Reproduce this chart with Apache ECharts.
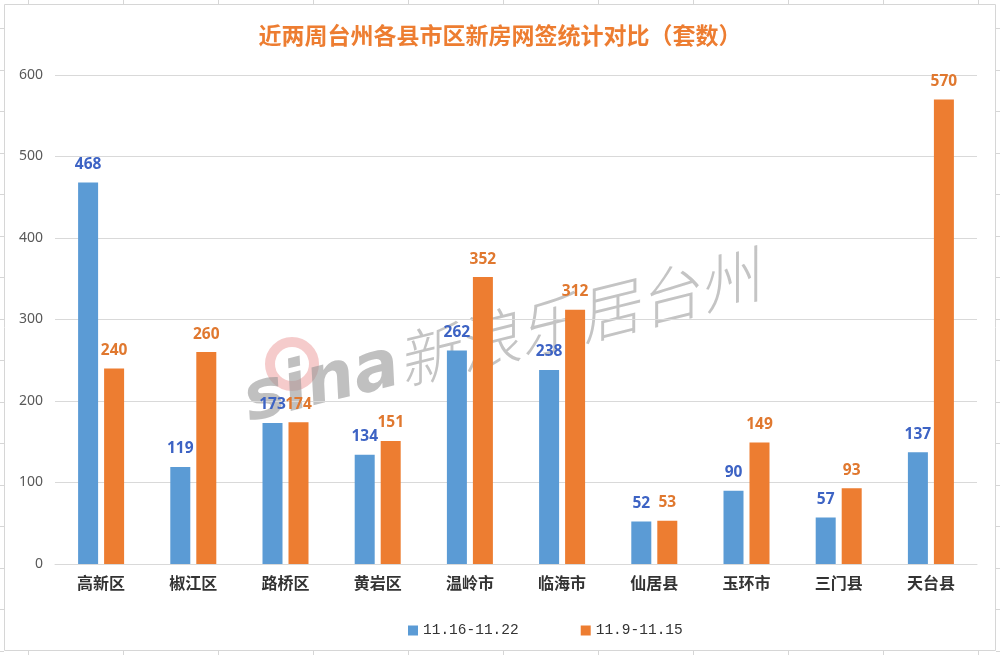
<!DOCTYPE html>
<html>
<head>
<meta charset="utf-8">
<script src="https://cdn.jsdelivr.net/npm/echarts@6/dist/echarts.min.js"></script>
<style>html,body{margin:0;padding:0;background:#fff}#c{width:1000px;height:655px}</style>
</head>
<body>
<div id="c"></div>
<script>
const categories = ['高新区','椒江区','路桥区','黄岩区','温岭市','临海市','仙居县','玉环市','三门县','天台县'];
const seriesNames = ['11.16-11.22','11.9-11.15'];
const week1 = [468,119,173,134,262,238,52,90,57,137];
const week2 = [240,260,174,151,352,312,53,149,93,570];
const yTicks = [0,100,200,300,400,500,600];

const chart = echarts.init(document.getElementById('c'));
const cjk = '"Microsoft YaHei","Noto Sans CJK SC",sans-serif';

// spreadsheet cell lines around the chart object (decoration)
const deco = [];
const lineStyle = {stroke:'#d6d6d6', lineWidth:1};
deco.push({type:'rect', shape:{x:4.5,y:4.5,width:991,height:646}, style:{fill:null, stroke:'#d6d6d6', lineWidth:1}, silent:true, z:-10});
for (let x = 28; x < 1000; x += 95) {
  deco.push({type:'line', shape:{x1:x+0.5,y1:0,x2:x+0.5,y2:4}, style:lineStyle, silent:true});
  deco.push({type:'line', shape:{x1:x+0.5,y1:651,x2:x+0.5,y2:655}, style:lineStyle, silent:true});
}
for (let y = 28; y < 655; y += 41.5) {
  const yy = Math.round(y)+0.5;
  deco.push({type:'line', shape:{x1:0,y1:yy,x2:4,y2:yy}, style:lineStyle, silent:true});
  deco.push({type:'line', shape:{x1:996,y1:yy,x2:1000,y2:yy}, style:lineStyle, silent:true});
}
// watermark
deco.push({type:'circle', shape:{cx:292, cy:364, r:22}, style:{fill:null, stroke:'rgba(232,140,140,0.45)', lineWidth:10}, silent:true, z:-5});
deco.push({type:'text', x:322, y:385, rotation:14*Math.PI/180, style:{text:'sina', font:'italic bold 68px "DejaVu Sans",sans-serif', fill:'rgba(150,150,150,0.6)', textAlign:'center', textVerticalAlign:'middle'}, silent:true, z:-4});
deco.push({type:'text', x:578, y:318, rotation:14*Math.PI/180, style:{text:'新浪乐居台州', font:'italic 300 62px "Noto Sans CJK SC",sans-serif', fill:'rgba(165,165,165,0.65)', textAlign:'center', textVerticalAlign:'middle'}, silent:true, z:-4});

chart.setOption({
  backgroundColor:'#ffffff',
  animation:false,
  title:{
    text:'近两周台州各县市区新房网签统计对比（套数）',
    left:'center', top:19,
    textStyle:{fontFamily:cjk, fontSize:23, fontWeight:'bold', color:'#ED7D31'}
  },
  legend:{
    left:403, top:618,
    itemWidth:10, itemHeight:10, itemGap:62,
    icon:'rect',
    textStyle:{fontFamily:'"Liberation Mono",monospace', fontSize:14.5, color:'#333'},
    data:seriesNames
  },
  grid:{left:55, right:23, top:75, bottom:91, containLabel:false},
  xAxis:{
    type:'category', data:categories,
    axisLine:{lineStyle:{color:'#d9d9d9'}},
    axisTick:{show:false},
    axisLabel:{fontFamily:cjk, fontSize:16, fontWeight:'bold', color:'#333', margin:11}
  },
  yAxis:{
    type:'value', min:yTicks[0], max:yTicks[yTicks.length-1], interval:100,
    axisLine:{show:false}, axisTick:{show:false},
    splitLine:{lineStyle:{color:'#d9d9d9'}},
    axisLabel:{fontFamily:'"Noto Sans",sans-serif', fontSize:14, color:'#595959', margin:12}
  },
  series:[
    {name:seriesNames[0], type:'bar', data:week1, barWidth:20, barGap:'30%',
     itemStyle:{color:'#5B9BD5'},
     label:{show:true, position:'top', distance:10, fontFamily:'"Noto Sans",sans-serif', fontSize:15.5, fontWeight:'bold', color:'#3D63C4'}},
    {name:seriesNames[1], type:'bar', data:week2, barWidth:20, barGap:'30%',
     itemStyle:{color:'#ED7D31'},
     label:{show:true, position:'top', distance:10, fontFamily:'"Noto Sans",sans-serif', fontSize:15.5, fontWeight:'bold', color:'#E0782F'}}
  ],
  graphic:deco
});
</script>
</body>
</html>
